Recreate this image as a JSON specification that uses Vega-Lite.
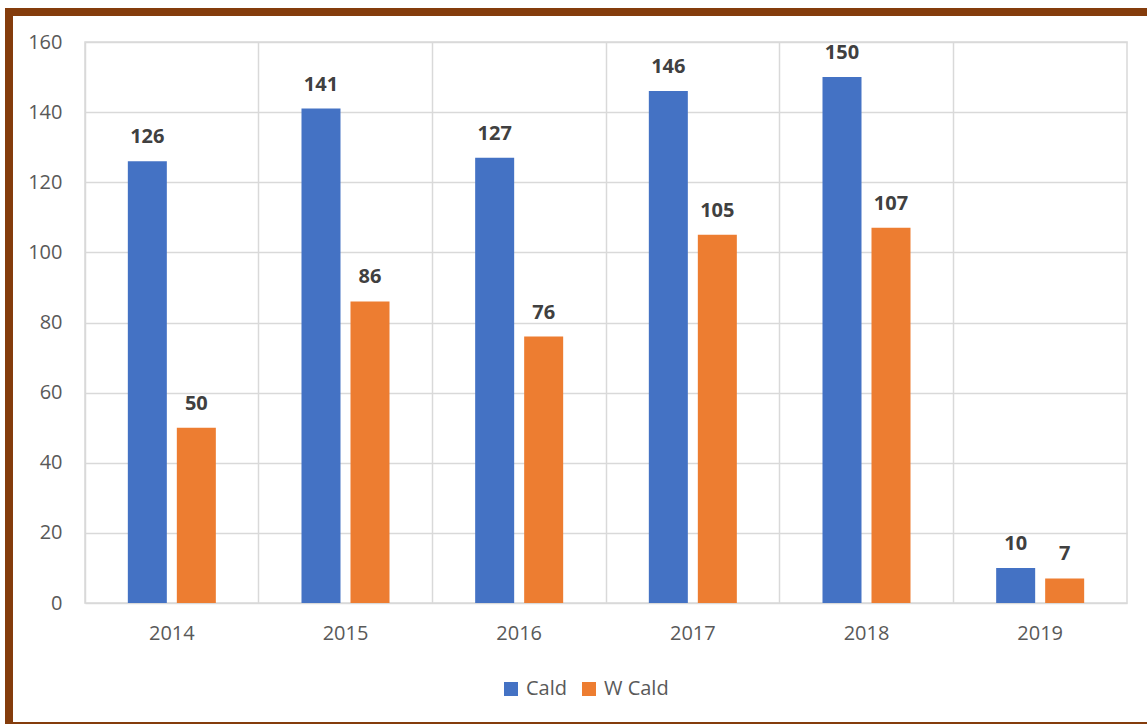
{
  "$schema": "https://vega.github.io/schema/vega-lite/v6.json",
  "autosize": {"type": "none"},
  "width": 1042,
  "height": 561,
  "padding": {"left": 85, "top": 42, "right": 20, "bottom": 121},
  "background": "white",
  "config": {
    "font": "Open Sans",
    "view": {"stroke": "#d9d9d9", "strokeWidth": 1.5},
    "axis": {"labelFont": "Open Sans", "labelColor": "#595959", "labelFontSize": 20, "gridColor": "#d9d9d9", "gridWidth": 1.5, "domain": false, "ticks": false, "title": null}
  },
  "data": {
    "values": [
      {"year": "2014", "series": "Cald", "count": 126},
      {"year": "2014", "series": "W Cald", "count": 50},
      {"year": "2015", "series": "Cald", "count": 141},
      {"year": "2015", "series": "W Cald", "count": 86},
      {"year": "2016", "series": "Cald", "count": 127},
      {"year": "2016", "series": "W Cald", "count": 76},
      {"year": "2017", "series": "Cald", "count": 146},
      {"year": "2017", "series": "W Cald", "count": 105},
      {"year": "2018", "series": "Cald", "count": 150},
      {"year": "2018", "series": "W Cald", "count": 107},
      {"year": "2019", "series": "Cald", "count": 10},
      {"year": "2019", "series": "W Cald", "count": 7}
    ]
  },
  "encoding": {
    "x": {"field": "year", "type": "nominal", "scale": {"paddingInner": 0, "paddingOuter": 0},
      "axis": {"labelAngle": 0, "grid": true, "bandPosition": 0, "labelPadding": 20, "labelFlush": false}},
    "xOffset": {"field": "series", "type": "nominal", "scale": {"paddingInner": 0.204, "paddingOuter": 0.874}},
    "y": {"field": "count", "type": "quantitative", "scale": {"domain": [0, 160], "nice": false},
      "axis": {"values": [0, 20, 40, 60, 80, 100, 120, 140, 160], "labelPadding": 23, "grid": true}}
  },
  "layer": [
    {
      "mark": {"type": "bar"},
      "encoding": {
        "color": {"field": "series", "type": "nominal",
          "scale": {"domain": ["Cald", "W Cald"], "range": ["#4472C4", "#ED7D31"]},
          "legend": {"title": null, "orient": "none", "direction": "horizontal", "legendX": 416, "legendY": 637,
            "symbolType": "square", "symbolSize": 196, "symbolStrokeWidth": 0, "symbolOpacity": 1,
            "labelFontSize": 20, "labelColor": "#595959", "labelFont": "Open Sans", "labelOffset": 5, "columnPadding": 12}}
      }
    },
    {
      "mark": {"type": "text", "baseline": "alphabetic", "dy": -18, "fontSize": 20, "fontWeight": "bold", "color": "#404040", "font": "Open Sans"},
      "encoding": {"text": {"field": "count", "type": "quantitative"}}
    },
    {
      "data": {"values": [{"frame": "border"}]},
      "mark": {"type": "rect", "fill": null, "stroke": "#843C0C", "strokeWidth": 8, "clip": false},
      "encoding": {
        "x": {"value": -76},
        "x2": {"value": 1075},
        "y": {"value": -30},
        "y2": {"value": 684},
        "xOffset": null
      }
    }
  ]
}
